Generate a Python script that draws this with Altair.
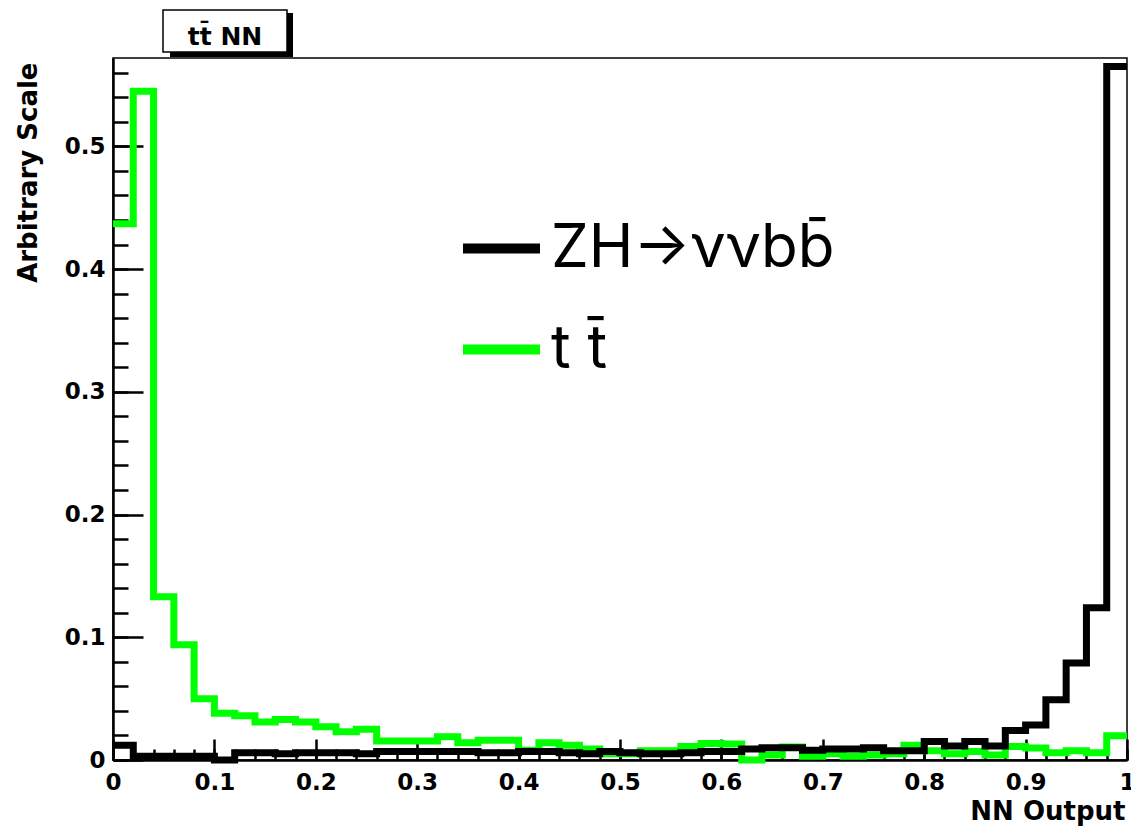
import altair as alt
import pandas as pd

# bin edges of the 50-bin histograms (0 .. 1, width 0.02)
edges = [round(i * 0.02, 2) for i in range(51)]

# ZH -> vv bb signal (black), per bin
zh = [0.012, 0.003, 0.003, 0.003, 0.003, 0.0, 0.006, 0.006, 0.005, 0.006,
      0.006, 0.006, 0.005, 0.007, 0.007, 0.007, 0.007, 0.007, 0.006, 0.006,
      0.007, 0.007, 0.006, 0.005, 0.007, 0.006, 0.005, 0.005, 0.006, 0.007,
      0.007, 0.009, 0.010, 0.010, 0.008, 0.009, 0.009, 0.010, 0.0076, 0.0076,
      0.015, 0.0114, 0.015, 0.0114, 0.024, 0.0285, 0.049, 0.079, 0.124, 0.565]

# t tbar background (green), per bin
tt = [0.437, 0.545, 0.133, 0.094, 0.050, 0.038, 0.036, 0.031, 0.033, 0.031,
      0.027, 0.023, 0.025, 0.0155, 0.0155, 0.0155, 0.019, 0.014, 0.016, 0.016,
      0.008, 0.014, 0.012, 0.009, 0.005, 0.005, 0.0076, 0.0076, 0.011, 0.0135,
      0.013, 0.0, 0.004, 0.0105, 0.003, 0.005, 0.003, 0.004, 0.005, 0.012,
      0.0076, 0.005, 0.007, 0.004, 0.011, 0.0097, 0.006, 0.0075, 0.006, 0.0198]

series_names = ["ZH\u2192\u03bd\u03bdbb\u0304", "t t\u0304"]
series_colors = ["#000000", "#00ff00"]

y_major = [0, 0.1, 0.2, 0.3, 0.4, 0.5]
y_minor = [round(i * 0.02, 2) for i in range(29)]
x_major = [0, 0.1, 0.2, 0.3, 0.4, 0.5, 0.6, 0.7, 0.8, 0.9, 1]
x_minor = [round(i * 0.02, 2) for i in range(51)]

title_text = "tt\u0304 NN"
x_title = "NN Output"
y_title = "Arbitrary Scale"

rows = []
for name, vals in zip(series_names, [zh, tt]):
    for i, e in enumerate(edges):
        rows.append({"x": e, "y": vals[min(i, len(vals) - 1)], "s": name})
df = pd.DataFrame(rows)

W, H = 1014, 702
xs = alt.Scale(domain=[0, 1], nice=False, zero=False)
ys = alt.Scale(domain=[0, 0.572], nice=False, zero=False)

FONT = "DejaVu Sans"

ax_x_major = alt.Axis(orient="bottom", values=x_major, offset=-21, tickSize=21, tickWidth=2.5,
                      tickColor="black", domain=False, grid=False, format="~g",
                      labelFont=FONT, labelFontWeight="bold", labelFontSize=23, labelColor="black",
                      labelPadding=11, labelFlush=False, labelOverlap=False,
                      title=x_title, titleFont=FONT, titleFontWeight="bold", titleFontSize=26,
                      titleColor="black", titleAlign="right", titleBaseline="alphabetic",
                      titleX=1012, titleY=80)
ax_x_minor = alt.Axis(orient="bottom", values=x_minor, offset=-11, tickSize=11, tickWidth=2.5,
                      tickColor="black", domain=False, grid=False, labels=False, title=None)
ax_x_dom = alt.Axis(orient="bottom", ticks=False, labels=False, domain=True, domainWidth=2.5,
                    domainColor="black", grid=False, title=None)

ax_y_major = alt.Axis(orient="left", values=y_major, offset=-30, tickSize=30, tickWidth=2.5,
                      tickColor="black", domain=False, grid=False, format="~g",
                      labelFont=FONT, labelFontWeight="bold", labelFontSize=23, labelColor="black",
                      labelPadding=8, labelOverlap=False,
                      title=y_title, titleFont=FONT, titleFontWeight="bold", titleFontSize=26,
                      titleColor="black", titleAngle=270, titleAlign="right",
                      titleBaseline="alphabetic", titleX=-107, titleY=4)
ax_y_minor = alt.Axis(orient="left", values=y_minor, offset=-15, tickSize=15, tickWidth=2.5,
                      tickColor="black", domain=False, grid=False, labels=False, title=None)
ax_y_dom = alt.Axis(orient="left", ticks=False, labels=False, domain=True, domainWidth=2.5,
                    domainColor="black", grid=False, title=None)

legend = alt.Legend(orient="none", legendX=345, legendY=147, title=None, symbolType="stroke",
                    symbolSize=77 * 77, symbolStrokeWidth=10, labelFont="Inter",
                    labelFontSize=60, labelColor="black", labelOffset=6, labelLimit=2000,
                    rowPadding=27, padding=0)
color = alt.Color("s:N", scale=alt.Scale(domain=series_names, range=series_colors), legend=legend)

base = alt.Chart(df)

green = base.transform_filter(alt.datum.s == series_names[1]).mark_line(
    interpolate="step-after", strokeWidth=7, strokeCap="butt", strokeJoin="miter", clip=False
).encode(x=alt.X("x:Q", scale=xs, axis=ax_x_major),
         y=alt.Y("y:Q", scale=ys, axis=ax_y_major),
         color=color)

black = base.transform_filter(alt.datum.s == series_names[0]).mark_line(
    interpolate="step-after", strokeWidth=7, strokeCap="butt", strokeJoin="miter", clip=False
).encode(x=alt.X("x:Q", scale=xs, axis=ax_x_minor),
         y=alt.Y("y:Q", scale=ys, axis=ax_y_minor),
         color=color)

frame = base.mark_line(opacity=0).encode(
    x=alt.X("x:Q", scale=xs, axis=ax_x_dom),
    y=alt.Y("y:Q", scale=ys, axis=ax_y_dom))

tdf = pd.DataFrame({"t": [title_text]})
shadow = alt.Chart(tdf).mark_rect(color="black").encode(
    x=alt.value(57), x2=alt.value(180), y=alt.value(-45), y2=alt.value(-1))
box = alt.Chart(tdf).mark_rect(fill="white", stroke="black", strokeWidth=1.5).encode(
    x=alt.value(50), x2=alt.value(174), y=alt.value(-48), y2=alt.value(-6))
btxt = alt.Chart(tdf).mark_text(font=FONT, fontWeight="bold", fontSize=25, align="center",
                                baseline="alphabetic", color="black").encode(
    x=alt.value(112), y=alt.value(-13), text="t:N")

chart = alt.layer(green, black, frame, shadow, box, btxt).resolve_axis(
    x="independent", y="independent"
).properties(
    width=W, height=H,
    autosize=alt.AutoSizeParams(type="none"),
    padding={"left": 113, "top": 58, "right": 4, "bottom": 66},
    background="white",
).configure_view(stroke="black", strokeWidth=1.5, fill="white")

chart.save("out.html", embed_options={"renderer": "svg", "actions": False})
